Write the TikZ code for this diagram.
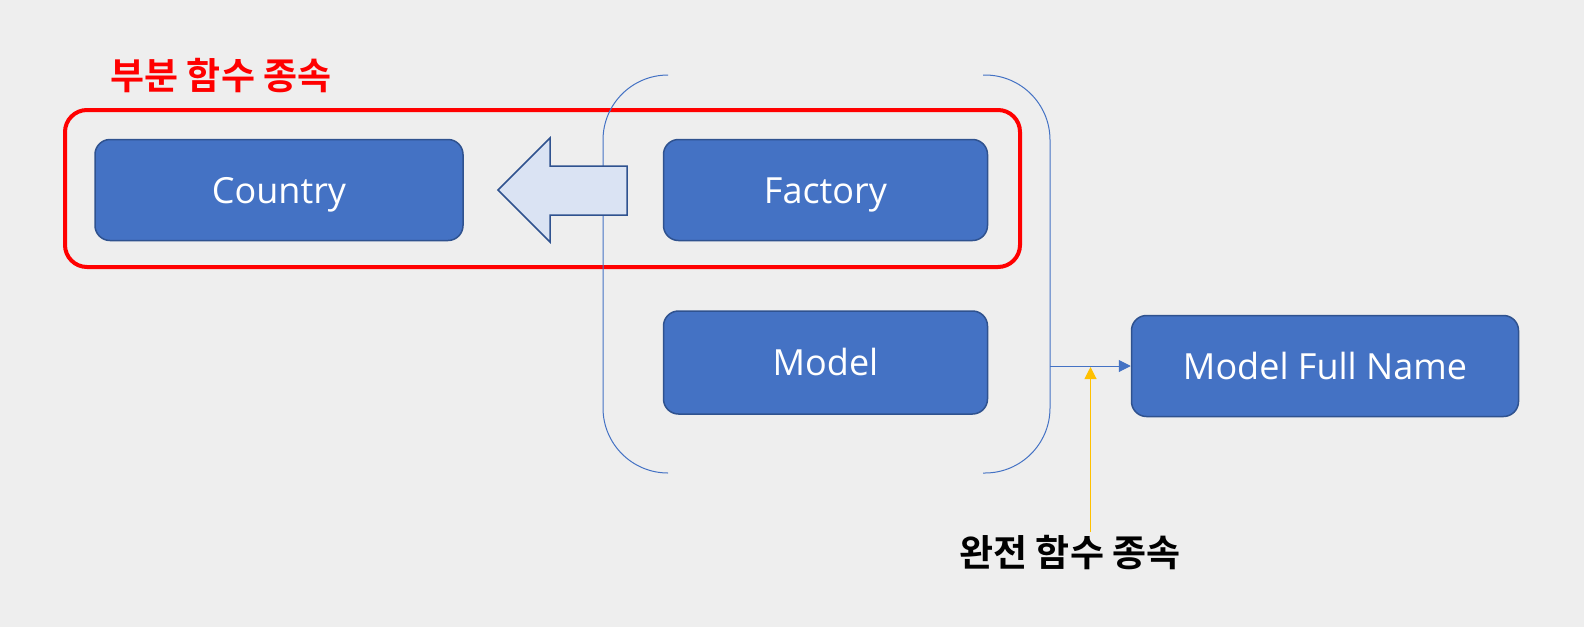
\documentclass[tikz,border=0pt]{standalone}
\usepackage{fontspec}
\setmainfont{Open Sans}
\newfontfamily\kr{Noto Sans CJK KR}[BoldFont={Noto Sans CJK KR Bold}]
\usetikzlibrary{arrows.meta}
\definecolor{bgcol}{HTML}{EEEEEE}
\definecolor{boxfill}{HTML}{4472C4}
\definecolor{boxline}{HTML}{2F528F}
\definecolor{arrfill}{HTML}{DAE3F3}
\definecolor{note}{HTML}{FFC000}

\begin{document}
\begin{tikzpicture}[x=1pt,y=-1pt,>={Triangle[length=12pt,width=12pt]},
  box/.style={draw=boxline,line width=1.5pt,fill=boxfill,rounded corners=15pt,text=white,
    font=\fontsize{36}{40}\selectfont,minimum height=101pt,text height=26pt,text depth=0pt},
  group/.style={draw=red,line width=4pt,rounded corners=22pt,minimum width=955pt,minimum height=157pt},
  label/.style={font=\kr\bfseries\fontsize{37}{40}\selectfont},
  bracket/.style={draw=boxfill,line width=1pt,rounded corners=65pt}]
  \fill[bgcol] (0,0) rectangle (1584,627);
  \useasboundingbox (0,0) rectangle (1584,627);
  \node[group] (partial) at (542.5,188.5) {};
  \node[label,text=red] (partiallabel) at (221,76) {부분 함수 종속};
  \node[box,minimum width=368pt] (country) at (279,190) {Country};
  \node[box,minimum width=324pt] (factory) at (825.5,190) {Factory};
  \node[box,minimum width=324pt,minimum height=103pt] (model) at (825.5,362.5) {Model};
  \node[box,minimum width=387pt] (fullname) at (1325,366) {Model Full Name};
  \node[label] (fulllabel) at (1070,553) {완전 함수 종속};
  % key brackets
  \draw[bracket] (668,75) -| (603,270) |- (668,473);
  \draw[bracket] (983,75) -| (1050,270) |- (983,473);
  % dependency arrow
  \draw[draw=boxline,fill=arrfill,line width=1.5pt,line join=miter]
    (627,166) -- (550,166) -- (550,138) -- (498,190) -- (550,242) -- (550,215) -- (627,215) -- cycle;
  \coordinate (keyout) at (1050,366);
  \coordinate (notetip) at (1090.5,367);
  \draw[->,boxfill,line width=1pt] (keyout) -- (fullname.west);
  \draw[->,note,line width=1pt] (notetip |- fulllabel.north) -- (notetip);
\end{tikzpicture}
\end{document}
